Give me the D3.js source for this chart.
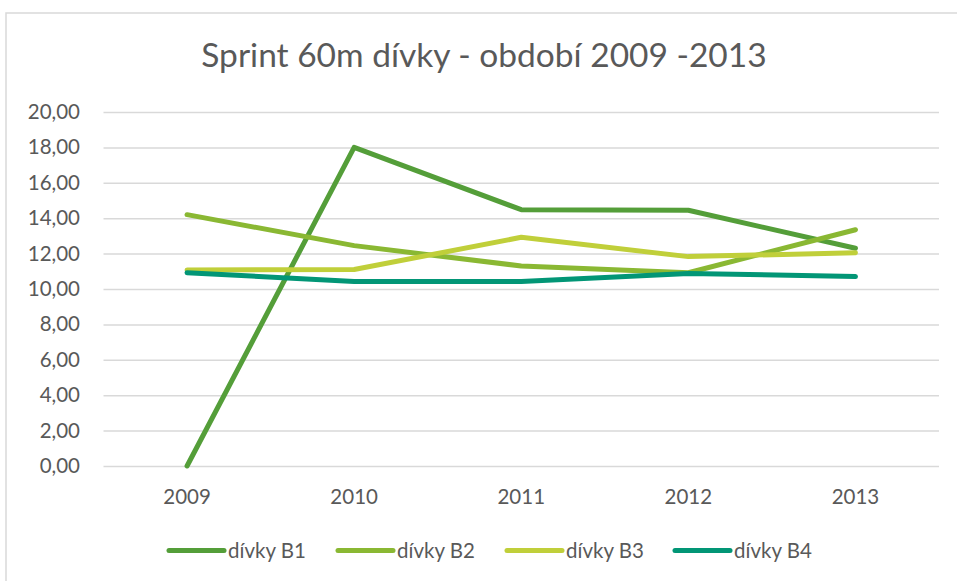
<!DOCTYPE html>
<html>
<head>
<meta charset="utf-8">
<script src="https://cdn.jsdelivr.net/npm/d3@7"></script>
<style>
  body { margin: 0; background: #fff; }
  svg text { font-family: Lato, "Open Sans", sans-serif; fill: #595959; }
</style>
</head>
<body>
<div id="chart"></div>
<script>
const years = ['2009', '2010', '2011', '2012', '2013'];
const seriesNames = ['dívky B1', 'dívky B2', 'dívky B3', 'dívky B4'];
const b1 = [0.00, 18.00, 14.48, 14.45, 12.30];
const b2 = [14.20, 12.45, 11.30, 10.92, 13.35];
const b3 = [11.07, 11.10, 12.92, 11.83, 12.05];
const b4 = [10.92, 10.42, 10.42, 10.88, 10.70];
const yTicks = [0, 2, 4, 6, 8, 10, 12, 14, 16, 18, 20];
const colors = ['#549e39', '#8ab833', '#c0cf3a', '#029676'];
const title = 'Sprint 60m dívky - období 2009 -2013';

const width = 957, height = 581;
const margin = { top: 112, right: 18, bottom: 115, left: 103.5 };

const svg = d3.select('#chart').append('svg')
  .attr('width', width)
  .attr('height', height);

// chart area frame (only top and left edges show in the picture)
svg.append('path')
  .attr('d', `M6,${height} V13 H${width}`)
  .attr('fill', 'none')
  .attr('stroke', '#d9d9d9')
  .attr('stroke-width', 1.5);

svg.append('text')
  .attr('x', 484)
  .attr('y', 67)
  .attr('text-anchor', 'middle')
  .style('font-size', '33.5px')
  .text(title);

const x = d3.scaleBand()
  .domain(years)
  .range([margin.left, width - margin.right]);

const y = d3.scaleLinear()
  .domain([0, 20])
  .range([466, margin.top]);

// gridlines
const grid = svg.append('g')
  .call(d3.axisLeft(y).tickValues(yTicks).tickSize(-(x.range()[1] - x.range()[0])).tickFormat(''))
  .attr('transform', `translate(${margin.left},0)`);
grid.select('.domain').remove();
grid.selectAll('line').attr('stroke', '#d9d9d9').attr('stroke-width', 1.5);

// y labels
const yAxis = svg.append('g')
  .attr('transform', `translate(80,0)`)
  .call(d3.axisLeft(y).tickValues(yTicks).tickSize(0).tickPadding(0)
    .tickFormat(d => d3.format('.2f')(d).replace('.', ',')));
yAxis.select('.domain').remove();
yAxis.selectAll('text').style('font-size', '20.5px').attr('fill', '#595959').style('font-family', 'Lato');

// x labels
const xAxis = svg.append('g')
  .attr('transform', `translate(0,466)`)
  .call(d3.axisBottom(x).tickSize(0).tickPadding(23));
xAxis.select('.domain').remove();
xAxis.selectAll('text').style('font-size', '20.5px').attr('fill', '#595959').style('font-family', 'Lato');

const allSeries = [b1, b2, b3, b4];
const line = d3.line()
  .x((d, i) => x(years[i]) + x.bandwidth() / 2)
  .y(d => y(d));

allSeries.forEach((s, k) => {
  svg.append('path')
    .datum(s)
    .attr('d', line)
    .attr('fill', 'none')
    .attr('stroke', colors[k])
    .attr('stroke-width', 5)
    .attr('stroke-linecap', 'round')
    .attr('stroke-linejoin', 'round');
});

// legend
const legendX = [169, 338, 507, 675];
seriesNames.forEach((name, k) => {
  const g = svg.append('g').attr('transform', `translate(${legendX[k]},550.5)`);
  g.append('line')
    .attr('x1', 0).attr('x2', 55)
    .attr('stroke', colors[k])
    .attr('stroke-width', 5)
    .attr('stroke-linecap', 'round');
  g.append('text')
    .attr('x', 59)
    .attr('dy', '0.35em')
    .style('font-size', '20.5px')
    .text(name);
});
</script>
</body>
</html>
